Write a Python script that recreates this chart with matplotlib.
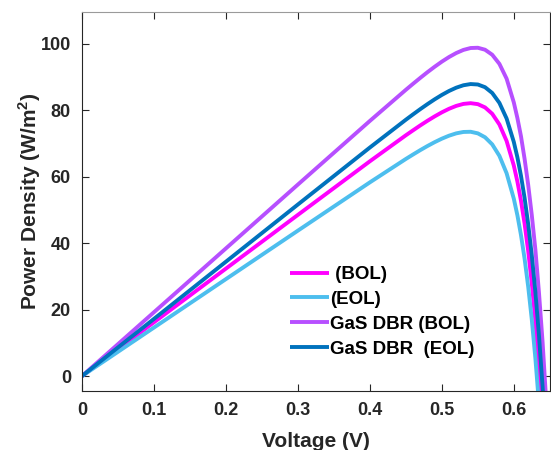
import matplotlib
matplotlib.use('Agg')
import matplotlib.pyplot as plt
from matplotlib.ticker import FormatStrFormatter

plt.rcParams['font.family'] = ['Liberation Sans', 'DejaVu Sans']
plt.rcParams['font.weight'] = 'bold'
plt.rcParams['mathtext.fontset'] = 'custom'
plt.rcParams['mathtext.rm'] = 'Liberation Sans:bold'
plt.rcParams['mathtext.bf'] = 'Liberation Sans:bold'

# voltage (V)
voltage = [0, 0.1, 0.2, 0.3, 0.4, 0.45, 0.46, 0.47, 0.48, 0.49, 0.50, 0.51, 0.52,
           0.53, 0.54, 0.55, 0.56, 0.57, 0.58, 0.59, 0.60, 0.605, 0.61, 0.615,
           0.62, 0.625, 0.63, 0.635, 0.64, 0.645]

# power density (W/m^2)
p_bol = [0, 16.16, 32.32, 48.48, 64.6, 72.42, 73.91, 75.38, 76.78, 78.10, 79.32,
         80.39, 81.26, 81.86, 82.08, 81.79, 80.81, 78.89, 75.67, 70.70, 63.33,
         58.49, 52.70, 45.80, 37.62, 27.92, 16.43, 2.98, -12.9, -31.6]
p_eol = [0, 14.58, 29.16, 43.74, 58.26, 65.30, 66.64, 67.95, 69.19, 70.35, 71.40,
         72.30, 73.00, 73.42, 73.48, 73.00, 71.83, 69.69, 66.23, 61.00, 53.35,
         48.34, 42.37, 35.28, 26.88, 16.96, 5.25, -8.5, -24.7, -42.0]
p_gas_bol = [0, 19.2, 38.4, 57.6, 76.74, 86.10, 87.91, 89.68, 91.40, 93.03, 94.57,
             95.96, 97.16, 98.10, 98.67, 98.75, 98.16, 96.65, 93.90, 89.45, 82.3,
             77.6, 72.1, 65.3, 57.5, 48.4, 38.0, 25.0, 10.2, -7.5]
p_gas_eol = [0, 17.2, 34.4, 51.6, 68.74, 77.10, 78.71, 80.28, 81.79, 83.23, 84.56,
             85.75, 86.74, 87.47, 87.83, 87.70, 86.89, 85.15, 82.16, 77.46, 70.42,
             65.78, 60.20, 53.56, 45.66, 36.29, 25.23, 12.16, -3.28, -21.4]

labels = [' (BOL)', '(EOL)', 'GaS DBR (BOL)', 'GaS DBR  (EOL)']
colors = ['#ff00ff', '#4dbeee', '#b74fff', '#0072bd']
series = [p_bol, p_eol, p_gas_bol, p_gas_eol]

fig = plt.figure(figsize=(5.51, 4.5), dpi=100)
ax = fig.add_axes([0.1488, 0.1311, 0.849, 0.8422])

for p, c, lab in zip(series, colors, labels):
    ax.plot(voltage, p, color=c, lw=2.8, label=lab, solid_capstyle='butt')

ax.set_xlim(0, 0.65)
ax.set_ylim(-4.5, 109.5)
ax.set_xticks([0, 0.1, 0.2, 0.3, 0.4, 0.5, 0.6])
ax.set_yticks([0, 20, 40, 60, 80, 100])
ax.xaxis.set_major_formatter(FormatStrFormatter('%g'))
ax.tick_params(direction='in', length=5, width=0.8, colors='#262626',
               labelsize=13, top=True, right=True, pad=8)
for s in ax.spines.values():
    s.set_color('#262626')
    s.set_linewidth(0.8)
ax.spines['top'].set_color('#9a9a9a')

ax.set_xlabel('Voltage (V)', fontsize=15, fontweight='bold', color='#262626',
              labelpad=9)
ax.set_ylabel(r'Power Density (W/m$^{2}$)', fontsize=15, fontweight='bold',
              color='#262626', labelpad=-2)

ax.legend(loc='upper left', bbox_to_anchor=(0.444, 0.33), frameon=False,
          fontsize=13.5, handlelength=2.1, handletextpad=0.05, labelspacing=0.41,
          borderpad=0, borderaxespad=0)

fig.savefig('out.png', dpi=100)
